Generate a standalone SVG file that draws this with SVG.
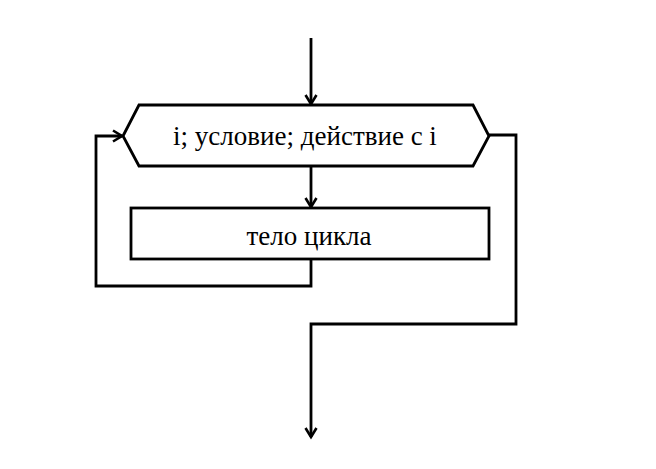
<svg xmlns="http://www.w3.org/2000/svg" width="656" height="469" viewBox="0 0 656 469">
<defs>
<marker id="arr" markerWidth="14" markerHeight="14" refX="11" refY="7" orient="auto" markerUnits="userSpaceOnUse">
<path d="M2,1.5 L11,7 L2,12.5" fill="none" stroke="#000" stroke-width="2.6"/>
</marker>
<style>
.ln{fill:none;stroke:#000;stroke-width:2.8}
.shape{fill:#fff;stroke:#000;stroke-width:2.8}
.t{font-family:"Liberation Serif","Times New Roman",serif;font-size:27px;fill:#000;text-anchor:middle}
</style>
</defs>
<rect width="656" height="469" fill="#fff"/>
<g id="connectors">
<path class="ln" d="M311,38 L311,104" marker-end="url(#arr)"/>
<path class="ln" d="M311,166 L311,207" marker-end="url(#arr)"/>
<path class="ln" d="M311,259 L311,286 L96,286 L96,136 L122,136" marker-end="url(#arr)"/>
<path class="ln" d="M489,135 L516,135 L516,324 L311,324 L311,437" marker-end="url(#arr)"/>
</g>
<g id="loop">
<polygon class="shape" points="123,136 139,105 473,105 489,136 473,166 139,166"/>
<text class="t" x="305" y="145">i; условие; действие с i</text>
</g>
<g id="body">
<rect class="shape" x="131" y="208" width="358" height="51"/>
<text class="t" x="309" y="245">тело цикла</text>
</g>
</svg>
